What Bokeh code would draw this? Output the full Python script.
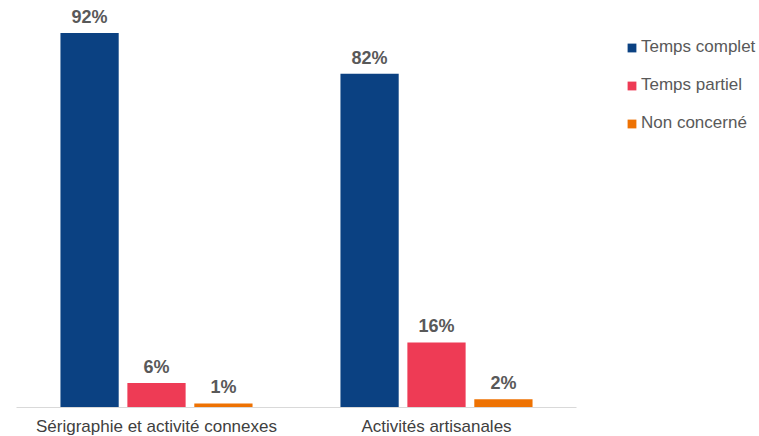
from bokeh.plotting import figure
from bokeh.models import ColumnDataSource, FactorRange, Range1d, Legend, LegendItem
from bokeh.transform import dodge
from bokeh.core.properties import value
from bokeh.embed import file_html
from bokeh.resources import INLINE

categories = ["Sérigraphie et activité connexes", "Activités artisanales"]
series = ["Temps complet", "Temps partiel", "Non concerné"]
temps_complet = [92, 82]
temps_partiel = [6, 16]
non_concerne = [1, 2]
colors = ["#0B4182", "#EE3B55", "#EE7203"]

values = [temps_complet, temps_partiel, non_concerne]
offsets = [-0.239, 0.0, 0.239]

p = figure(frame_width=560, frame_height=407, x_range=FactorRange(*categories),
           y_range=Range1d(0, 100), output_backend="svg", toolbar_location=None,
           min_border_left=16, min_border_right=183, min_border_top=0, min_border_bottom=0)

items = []
for name, vals, col, off in zip(series, values, colors, offsets):
    src = ColumnDataSource(dict(cat=categories, v=vals, lab=[f"{x}%" for x in vals]))
    r = p.vbar(x=dodge("cat", off, range=p.x_range), top="v", width=0.208, source=src,
               fill_color=col, line_color=None)
    p.text(x=dodge("cat", off, range=p.x_range), y="v", text="lab", source=src,
           text_align="center", text_baseline="bottom", y_offset=-6,
           text_font=value("Liberation Sans"), text_font_size="18px",
           text_font_style="bold", text_color="#595959")
    items.append(LegendItem(label=name, renderers=[r]))

legend = Legend(items=items, location=(50, 273), orientation="vertical",
                label_text_font="Liberation Sans", label_text_font_size="17px",
                label_text_color="#595959", glyph_width=11, glyph_height=11,
                label_height=22, spacing=16, label_standoff=4, border_line_color=None,
                background_fill_alpha=0, padding=0, margin=0)
p.add_layout(legend, "right")

p.yaxis.visible = False
p.xgrid.grid_line_color = None
p.ygrid.grid_line_color = None
p.outline_line_color = None
p.xaxis.axis_line_color = "#D9D9D9"
p.xaxis.axis_line_width = 1
p.xaxis.major_tick_line_color = None
p.xaxis.minor_tick_line_color = None
p.xaxis.major_tick_out = 0
p.xaxis.major_tick_in = 0
p.xaxis.major_label_text_font = "Liberation Sans"
p.xaxis.major_label_text_font_size = "17px"
p.xaxis.major_label_text_color = "#404040"
p.xaxis.major_label_standoff = 9
p.x_range.range_padding = 0
p.x_range.group_padding = 0

open("out.html", "w").write(file_html(p, INLINE))
